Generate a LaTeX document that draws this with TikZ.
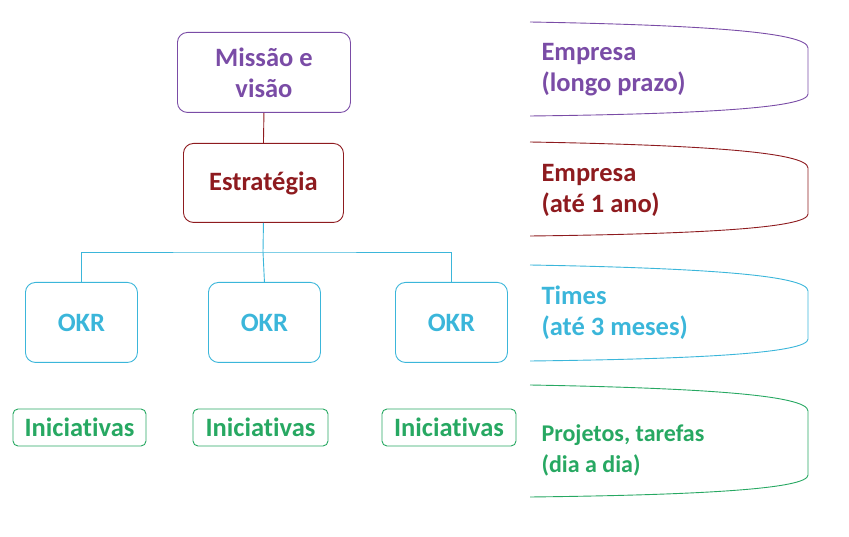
\documentclass[tikz,border=0pt]{standalone}
\usepackage{fontspec}
\setmainfont[Ligatures=NoCommon]{Carlito}
\definecolor{cpur}{HTML}{7A4CA6}
\definecolor{cred}{HTML}{8E1B1F}
\definecolor{ccya}{HTML}{3BB6DA}
\definecolor{cgrn}{HTML}{27A862}
\begin{document}
\begin{tikzpicture}[x=1pt,y=-1pt,
  bx/.style={draw,rounded corners=10pt,line width=0.9pt,font=\bfseries\fontsize{26.5}{31}\selectfont,align=center,anchor=north west},
  ib/.style={draw,rounded corners=5pt,line width=0.9pt,font=\bfseries\fontsize{26.5}{31}\selectfont,text=cgrn,anchor=center,minimum height=37pt,inner sep=0pt},
  lb/.style={font=\bfseries\fontsize{26.5}{31}\selectfont,align=left,anchor=west},
  br/.style={line width=0.9pt}]
\useasboundingbox (0,0) rectangle (849,537);
\node[bx,draw=cpur,text=cpur,minimum width=173pt,minimum height=80pt] (m) at (177,32) {Missão e\\visão};
\node[bx,draw=cred,text=cred,minimum width=160pt,minimum height=79pt] (s) at (183,143) {Estratégia};
\foreach \x/\n in {25/o1,208/o2,395/o3}
  \node[bx,draw=ccya,text=ccya,minimum width=112pt,minimum height=80pt] (\n) at (\x,282) {OKR};
\node[ib,draw=cgrn,minimum width=133pt] (i1) at (79.5,427.5) {Iniciativas};
\node[ib,draw=cgrn,minimum width=135pt] (i2) at (260.5,427.5) {Iniciativas};
\node[ib,draw=cgrn,minimum width=134pt] (i3) at (449,427.5) {Iniciativas};
\draw[cred,line width=0.9pt] (m.south) -- (s.north);
\coordinate (h) at (263,252);
\draw[ccya,line width=0.9pt] (s.south) -- (h);
\draw[ccya,line width=0.9pt] (o1.north) |- (h) -| (o3.north);
\draw[ccya,line width=0.9pt] (h) -- (o2.north);
\foreach \t/\b/\c in {22/116/cpur,142/236/cred,265/361/ccya,385/497/cgrn}{
  \draw[br,draw=\c] (530,\t) .. controls (700,\t+3) and (808,\t+10) .. (808,\t+26)
     -- (808,\b-22) .. controls (808,\b-8) and (700,\b-2) .. (530,\b);
}
\node[lb,text=cpur] (l1) at (538,70) {Empresa\\(longo prazo)};
\node[lb,text=cred] (l2) at (538,190) {Empresa\\(até 1 ano)};
\node[lb,text=ccya] (l3) at (538,313) {Times\\(até 3 meses)};
\node[lb,text=cgrn,font=\bfseries\fontsize{24}{31}\selectfont] (l4) at (538,450) {Projetos, tarefas\\(dia a dia)};
\end{tikzpicture}
\end{document}
